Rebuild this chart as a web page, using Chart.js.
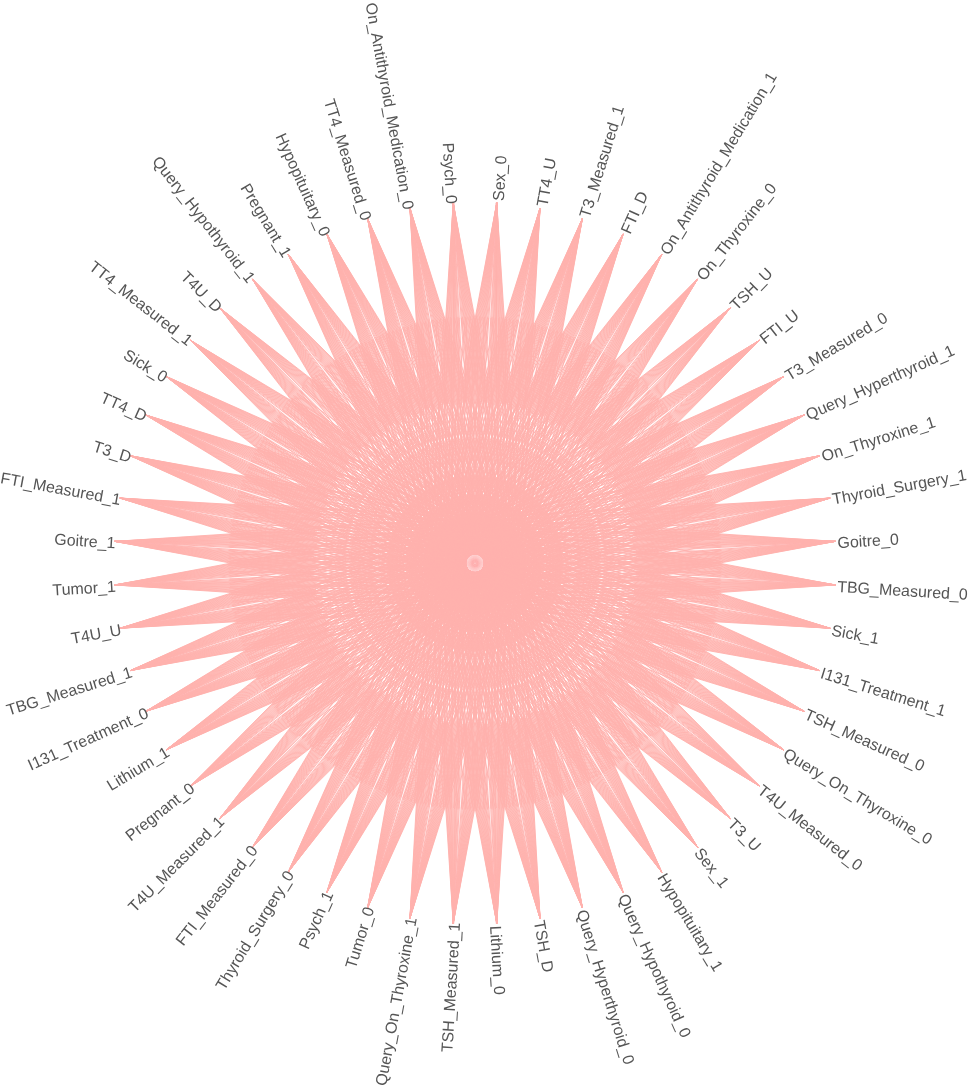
<!DOCTYPE html>
<html>
<head>
<meta charset="utf-8">
<title>Chord</title>
<script src="https://cdn.jsdelivr.net/npm/chart.js@4/dist/chart.umd.js"></script>
<style>
    html, body { margin: 0; padding: 0; background: #fff; }
    #box { width: 970px; height: 1089px; }
</style>
</head>
<body>
<div id="box"><canvas id="grafico"></canvas></div>
<script>
// nos, em sentido horario, a partir do Goitre_0
const nos = ['Goitre_0', 'TBG_Measured_0', 'Sick_1', 'I131_Treatment_1', 'TSH_Measured_0', 'Query_On_Thyroxine_0',
    'T4U_Measured_0', 'T3_U', 'Sex_1', 'Hypopituitary_1', 'Query_Hypothyroid_0', 'Query_Hyperthyroid_0', 'TSH_D',
    'Lithium_0', 'TSH_Measured_1', 'Query_On_Thyroxine_1', 'Tumor_0', 'Psych_1', 'Thyroid_Surgery_0', 'FTI_Measured_0',
    'T4U_Measured_1', 'Pregnant_0', 'Lithium_1', 'I131_Treatment_0', 'TBG_Measured_1', 'T4U_U', 'Tumor_1', 'Goitre_1',
    'FTI_Measured_1', 'T3_D', 'TT4_D', 'Sick_0', 'TT4_Measured_1', 'T4U_D', 'Query_Hypothyroid_1', 'Pregnant_1',
    'Hypopituitary_0', 'TT4_Measured_0', 'On_Antithyroid_Medication_0', 'Psych_0', 'Sex_0', 'TT4_U', 'T3_Measured_1',
    'FTI_D', 'On_Antithyroid_Medication_1', 'On_Thyroxine_0', 'TSH_U', 'FTI_U', 'T3_Measured_0', 'Query_Hyperthyroid_1',
    'On_Thyroxine_1', 'Thyroid_Surgery_1'];

// distancia de cada ligacao ao no oposto, em nos
const ligacoesLongas = [0.42, 0.63, 0.84, 1.05, 1.26, 1.47, 1.68, 1.89, 2.07];
const ligacoesCurtas = [0.14, 0.28, 0.53, 0.74, 0.95, 1.16, 1.37, 1.58, 1.79, 1.98];
// as fracas atravessam o centro
const ligacoesFracas = [0.05, 0.12];

// ate que fracao da corda a ligacao e desenhada
const fimLonga = 0.84;
const fimCurta = 0.28;

const corLigacao = 'rgba(255, 178, 173, 0.97)';
const corFraca = 'rgba(255, 178, 173, 0.12)';
const corTexto = '#555555';

function pontoDoNo(i) {
    const ang = (i * 360 / nos.length - 180 / nos.length) * Math.PI / 180;
    return { x: Math.cos(ang), y: -Math.sin(ang) };
}

var datasets = [];
function adicionarLigacoes(lista, fim, cor) {
    for (let i = 0; i < nos.length; i++) {
        for (const d of lista) {
            for (const lado of [-1, 1]) {
                const a = pontoDoNo(i);
                const b = pontoDoNo(i + nos.length / 2 + lado * d);
                datasets.push({
                    data: [a, { x: a.x + (b.x - a.x) * fim, y: a.y + (b.y - a.y) * fim }],
                    showLine: true,
                    borderColor: cor,
                    borderWidth: 0.95,
                    pointRadius: 0
                });
            }
        }
    }
}
adicionarLigacoes(ligacoesFracas, fimLonga, corFraca);
adicionarLigacoes(ligacoesCurtas, fimCurta, corLigacao);
adicionarLigacoes(ligacoesLongas, fimLonga, corLigacao);

const rotulos = {
    id: 'rotulos',
    afterDatasetsDraw(chart) {
        const ctx = chart.ctx;
        ctx.save();
        ctx.font = '16px "Liberation Sans"';
        ctx.fillStyle = corTexto;
        ctx.textBaseline = 'middle';
        nos.forEach((nome, i) => {
            const p = pontoDoNo(i);
            const px = chart.scales.x.getPixelForValue(p.x);
            const py = chart.scales.y.getPixelForValue(p.y);
            const ang = Math.atan2(py - chart.scales.y.getPixelForValue(0), px - chart.scales.x.getPixelForValue(0));
            const esquerda = Math.cos(ang) < 0;
            ctx.save();
            ctx.translate(px, py);
            ctx.rotate(esquerda ? ang + Math.PI : ang);
            ctx.textAlign = esquerda ? 'right' : 'left';
            ctx.fillText(nome, esquerda ? 1 : 2, 2.5);
            ctx.restore();
        });
        ctx.restore();
    }
};

new Chart(document.getElementById('grafico'), {
    type: 'scatter',
    data: { datasets: datasets },
    plugins: [rotulos],
    options: {
        responsive: true,
        maintainAspectRatio: false,
        animation: false,
        events: [],
        layout: { padding: 0 },
        scales: {
            x: { display: false, min: -1.3158, max: 1.3712 },
            y: { display: false, min: -1.4566, max: 1.5600 }
        },
        plugins: {
            legend: { display: false },
            tooltip: { enabled: false }
        }
    }
});
</script>
</body>
</html>
